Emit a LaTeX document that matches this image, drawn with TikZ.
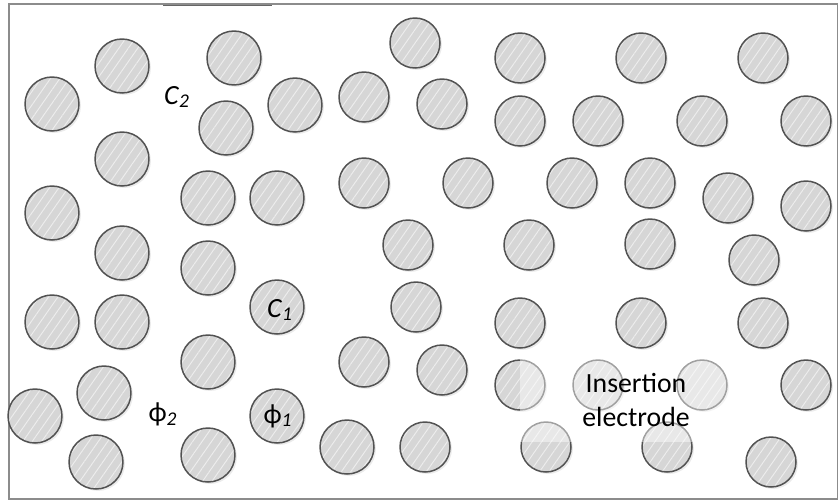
\documentclass[tikz,border=0pt]{standalone}
\usepackage{fontspec}
\setmainfont{Carlito}
\usetikzlibrary{patterns.meta, shadows}

\begin{document}
\begin{tikzpicture}[
    x=0.02cm, y=-0.02cm,
    grain/.style = {circle, draw=black!68, line width=0.85pt, inner sep=0pt,
      minimum size=1.08cm,
      drop shadow={shadow xshift=1.1pt, shadow yshift=-1.1pt, opacity=0.16},
      preaction={fill=black!16},
      pattern={Lines[angle=55, distance=4.4pt, line width=0.55pt]},
      pattern color=black!7},
    grainsm/.style = {grain, minimum size=1.0cm},
    lbl/.style = {font=\fontsize{15.8}{18.8}\selectfont, text=black, inner sep=0pt}
  ]
  \useasboundingbox (0,0) rectangle (838,501);

  % frame of the cell
  \draw[black!45, line width=0.6pt] (9,4) rectangle (838,499);
  \draw[black!60, line width=0.4pt] (163,5) -- (272,5);

  % larger grains on the left (pixel coordinates, y downwards)
  \foreach \x/\y [count=\i] in {122/66, 234/58, 52/104, 226/128, 295/105,
      122/159, 52/213, 208/198, 277/198, 122/253, 208/268, 52/322, 122/322,
      208/362, 104/393, 35/416, 96/462, 208/455, 347/447}
    \node[grain] (g\i) at (\x,\y) {};

  % grains holding the labels
  \node[grain] (c1) at (277,307) {};
  \node[grain] (phi1) at (277,416) {};

  % smaller grains towards the insertion electrode
  \foreach \x/\y [count=\i] in {415/43, 520/58, 641/58, 763/58, 364/97,
      442/104, 520/121, 598/121, 702/121, 806/121, 364/183, 468/183, 572/183,
      650/183, 728/198, 806/206, 408/245, 529/245, 650/244, 754/260, 416/307,
      520/323, 641/323, 763/323, 364/362, 442/370, 520/385, 598/385, 702/385,
      806/385, 425/447, 546/447, 667/447, 771/462}
    \node[grainsm] (s\i) at (\x,\y) {};

  % labels
  \node[lbl] (c1lbl) at ([xshift=0.06cm, yshift=-0.06cm]c1.center) {\textit{C}\textsubscript{\textit{1}}};
  \node[lbl] (phi1lbl) at ([xshift=0.02cm]phi1.center) {ϕ\textsubscript{\textit{1}}};
  \node[lbl] (c2lbl) at (177,97) {\textit{C}\textsubscript{\textit{2}}};
  \node[lbl] (phi2lbl) at (163,414) {ϕ\textsubscript{\textit{2}}};

  % translucent box behind the electrode label
  \fill[white, opacity=0.45] (520,352) rectangle (735,442);
  \node[lbl, align=center] (elec) at (636,400) {Insertion\\electrode};
\end{tikzpicture}
\end{document}
